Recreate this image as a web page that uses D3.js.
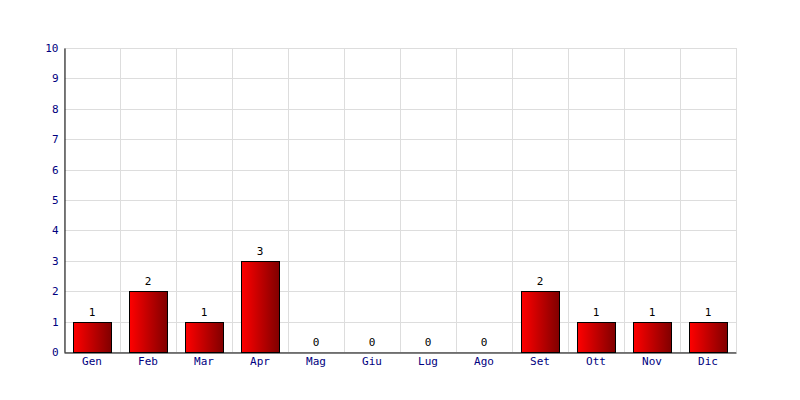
<!DOCTYPE html>
<html><head><meta charset="utf-8">
<script src="https://cdn.jsdelivr.net/npm/d3@7"></script>
<style>body{margin:0;background:#fff}svg{display:block}</style>
</head><body>
<script>
const categories = ["Gen","Feb","Mar","Apr","Mag","Giu","Lug","Ago","Set","Ott","Nov","Dic"];
const values = [1,2,1,3,0,0,0,0,2,1,1,1];
const yTicks = [0,1,2,3,4,5,6,7,8,9,10];

const W = 800, H = 400;
const m = {left: 64, right: 64, top: 48, bottom: 48};
const svg = d3.select("body").append("svg").attr("width", W).attr("height", H);
const defs = svg.append("defs");
const g = defs.append("linearGradient").attr("id","bg").attr("x1","0").attr("x2","1").attr("y1","0").attr("y2","0");
g.append("stop").attr("offset","0%").attr("stop-color","#ff0000");
g.append("stop").attr("offset","100%").attr("stop-color","#800000");

const x = d3.scaleBand().domain(categories).range([m.left, W - m.right]).paddingInner(0).paddingOuter(0);
const y = d3.scaleLinear().domain([0, 10]).range([H - m.bottom, m.top]);
const font = "'DejaVu Sans Mono', monospace";

// grid horizontal
svg.append("g").selectAll("line").data(yTicks).join("line")
  .attr("x1", m.left).attr("x2", W - m.right)
  .attr("y1", d => Math.round(y(d)) + 0.5).attr("y2", d => Math.round(y(d)) + 0.5)
  .attr("stroke", "#dddddd");
// grid vertical
const bounds = categories.map(c => x(c)).concat([W - m.right]);
svg.append("g").selectAll("line").data(bounds).join("line")
  .attr("x1", d => Math.round(d) + 0.5).attr("x2", d => Math.round(d) + 0.5)
  .attr("y1", m.top).attr("y2", H - m.bottom)
  .attr("stroke", "#dddddd");

// bars
const bw = 38;
svg.append("g").selectAll("rect").data(values.map((v,i)=>({c:categories[i], v}))).join("rect")
  .filter(d => d.v > 0)
  .attr("x", d => Math.round(x(d.c) + (x.bandwidth() - bw) / 2) + 0.5)
  .attr("y", d => Math.round(y(d.v)) + 0.5)
  .attr("width", bw)
  .attr("height", d => Math.round(y(0)) - Math.round(y(d.v)))
  .attr("fill", "url(#bg)")
  .attr("stroke", "#000").attr("stroke-width", 1);

// value labels
svg.append("g").selectAll("text").data(values.map((v,i)=>({c:categories[i], v}))).join("text")
  .attr("x", d => x(d.c) + x.bandwidth() / 2)
  .attr("y", d => y(d.v) - 6)
  .attr("text-anchor", "middle")
  .attr("font-family", font).attr("font-size", 11).attr("fill", "#000")
  .text(d => d.v);

// axes
const yAxis = d3.axisLeft(y).tickValues(yTicks).tickSize(0).tickPadding(6);
const ya = svg.append("g").attr("transform", `translate(${m.left + 0.5},0)`).call(yAxis);
ya.select(".domain").attr("stroke", "#000");
ya.selectAll("text").attr("font-family", font).attr("font-size", 11).attr("fill", "#000080");

const xAxis = d3.axisBottom(x).tickSize(0).tickPadding(5);
const xa = svg.append("g").attr("transform", `translate(0,${Math.round(y(0)) + 0.5})`).call(xAxis);
xa.select(".domain").attr("stroke", "#000");
xa.selectAll("text").attr("font-family", font).attr("font-size", 11).attr("fill", "#000080");
</script>
</body></html>
